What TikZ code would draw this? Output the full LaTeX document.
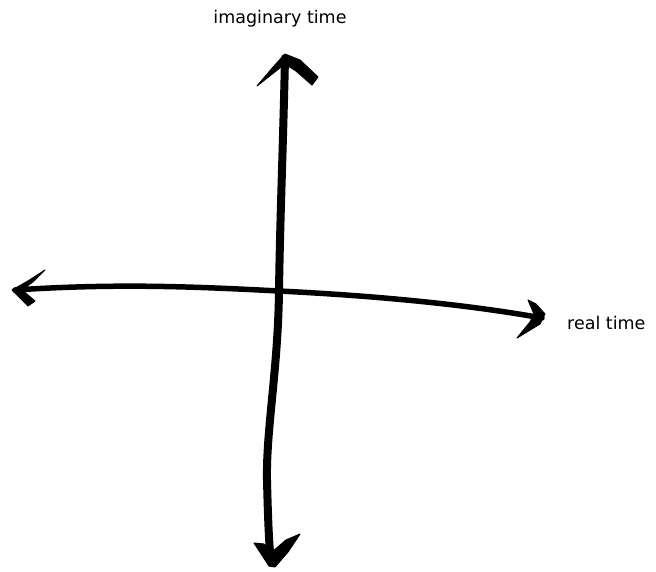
\documentclass[tikz,border=0pt]{standalone}
\usepackage{fontspec}
\setmainfont{DejaVu Sans}
\begin{document}
\begin{tikzpicture}[x=1pt,y=-1pt,
  axisline/.style={line width=#1,line cap=round,line join=round},
  headfill/.style={fill=black,draw=black,line width=1pt,line join=round},
  lbl/.style={font=\fontsize{17.5}{20}\selectfont,inner sep=0pt}]
\useasboundingbox[fill=white] (0,0) rectangle (656,572);
% named points
\coordinate (top) at (285,58);
\coordinate (bot) at (271,562);
\coordinate (left) at (15,290);
\coordinate (right) at (542,318);
\coordinate (o) at (279,291);
% vertical axis
\draw[axisline=8pt] (top) .. controls (283,150) and (280,220) .. (o)
  .. controls (278,370) and (266,430) .. (267,480) .. controls (268,520) and (269,545) .. (bot);
% horizontal axis
\draw[axisline=5.5pt] (left) .. controls (120,283) and (200,287) .. (o)
  .. controls (380,296) and (470,305) .. (right);
% top head
\path[headfill] (257,86) -- (274,66) -- (285,54) -- (300,60) -- (318,77) -- (312,85)
  -- (296,71) -- (285,64) -- (276,71) -- cycle;
% bottom head
\path[headfill] (254,543) -- (264,544) -- (272,552) -- (286,540) -- (300,534)
  -- (288,552) -- (275,567) -- (269,566) -- cycle;
% left head
\path[headfill] (45,270) -- (28,281) -- (12,290) -- (28,306) -- (35,301) -- (22,290)
  -- (34,281) -- cycle;
% right head
\path[headfill] (528,300) -- (536,304) -- (545,314) -- (540,324) -- (517,338)
  -- (530,322) -- (534,314) -- cycle;
% labels
\node[lbl,anchor=base] (lim) at (280,24) {imaginary time};
\node[lbl,anchor=base west] (lre) at (567,329) {real time};
\end{tikzpicture}
\end{document}
